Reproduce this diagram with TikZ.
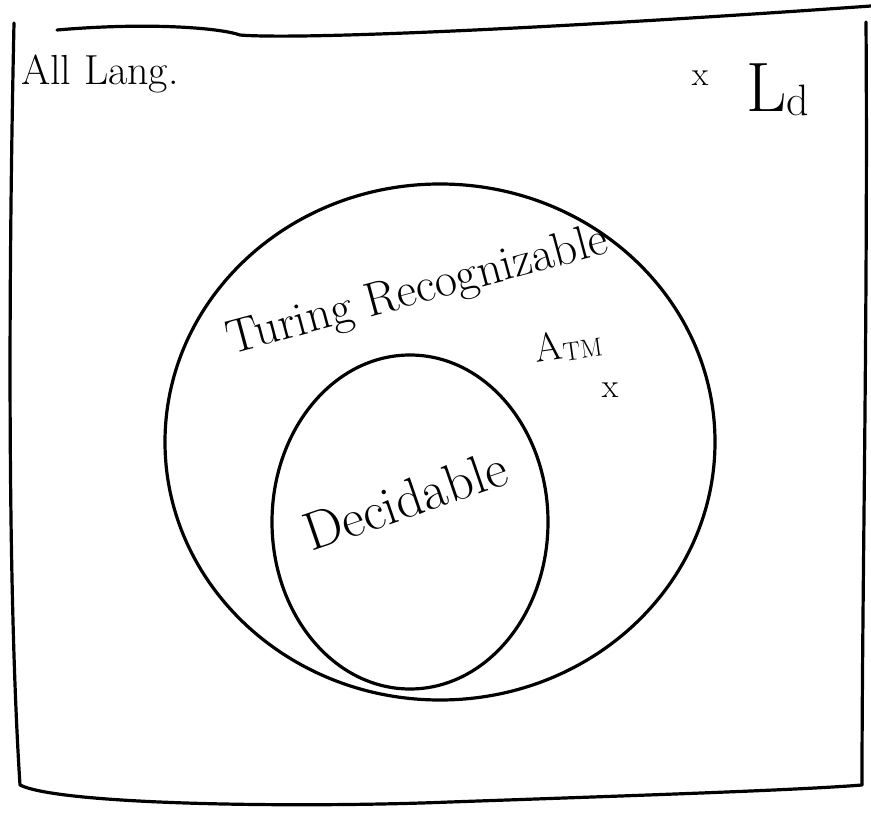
\documentclass[tikz,border=0pt]{standalone}
\usetikzlibrary{shapes.geometric}
\usepackage{fontspec}
\tikzset{
  pen/.style={line width=3.2pt, line cap=round, line join=round},
  setshape/.style={pen, draw, ellipse, inner sep=0pt},
  lbl/.style={inner sep=0pt, font=\fontsize{40}{46}\selectfont},
  markx/.style={inner sep=0pt, font=\fontsize{34}{36}\selectfont},
}
\begin{document}
\begin{tikzpicture}[x=1pt,y=-1pt]
\useasboundingbox (0,0) rectangle (871,818);
% outer frame (all languages)
\coordinate (tl) at (57,30);
\coordinate (tr) at (871,6);
\coordinate (ltop) at (14,23);
\coordinate (lbot) at (20,785);
\coordinate (rtop) at (866,22);
\coordinate (rbot) at (862,785);
\draw[pen] (tl) .. controls (150,22) and (220,28) .. (240,35) .. controls (300,40) and (560,28) .. (tr);
\draw[pen] (ltop) .. controls (8,300) and (8,600) .. (lbot) .. controls (60,805) and (300,808) .. (450,802) .. controls (650,795) and (800,790) .. (rbot);
\draw[pen] (rtop) .. controls (868,300) and (862,600) .. (rbot);
% sets
\node[setshape, minimum width=550pt, minimum height=516pt] (trset) at (440,442) {};
\node[setshape, minimum width=276pt, minimum height=334pt] (dec) at (410,522) {};
% labels
\node[lbl, font=\fontsize{42}{48}\selectfont] (all) at (100,74) {All Lang.};
\node[markx] (xld) at (700,78) {x};
\node[lbl, font=\fontsize{70}{76}\selectfont] (ld) at (778,90) {L{\fontsize{44}{48}\selectfont\raisebox{-4pt}{d}}};
\node[lbl, font=\fontsize{48}{54}\selectfont, rotate=15] (turing) at (418,292) {Turing Recognizable};
\node[lbl, rotate=8] (atm) at (568,345) {A{\fontsize{26}{30}\selectfont\raisebox{-3pt}{TM}}};
\node[markx] (xatm) at (610,390) {x};
\node[lbl, font=\fontsize{54}{60}\selectfont, rotate=19] (decl) at (405,500) {Decidable};
\end{tikzpicture}
\end{document}
